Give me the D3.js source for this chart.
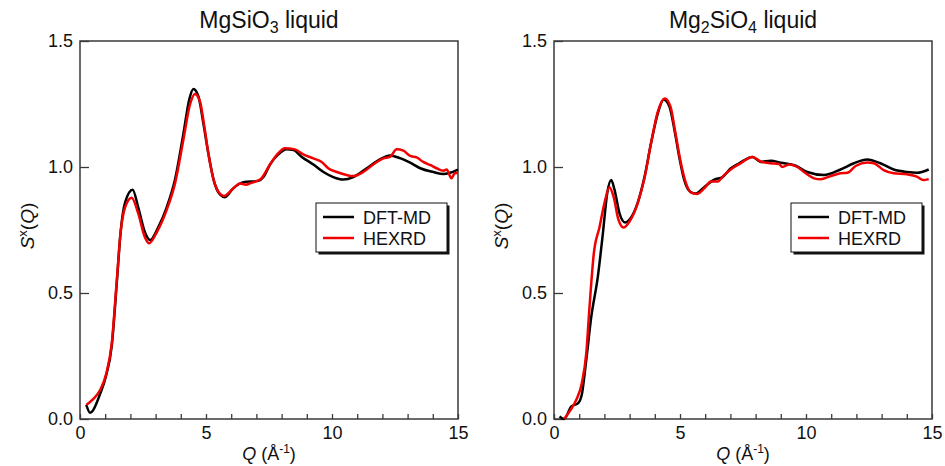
<!DOCTYPE html>
<html>
<head>
<meta charset="utf-8">
<script src="https://cdn.jsdelivr.net/npm/d3@7"></script>
<style>
  body { margin: 0; background: #fff; }
  svg { display: block; font-family: "Liberation Sans", Arial, Helvetica, sans-serif; }
</style>
</head>
<body>
<svg id="chart" width="945" height="466"></svg>
<script>
// MgSiO3 liquid
const mgsio3DftQ = [0.25, 0.4, 0.8, 1.03, 1.26, 1.46, 1.61, 1.79, 2.09, 2.31, 2.58, 2.78, 3.1, 3.44, 3.77, 4.1, 4.34, 4.5, 4.7, 4.9, 5.1, 5.3, 5.56, 5.75, 6.08, 6.48, 7.08, 7.28, 7.54, 7.87, 8.2, 8.47, 8.8, 9.26, 9.66, 10.05, 10.45, 10.85, 11.38, 11.9, 12.3, 12.7, 13.1, 13.5, 14.02, 14.42, 14.68, 15];
const mgsio3DftS = [0.056, 0.025, 0.10, 0.17, 0.29, 0.54, 0.74, 0.86, 0.91, 0.84, 0.74, 0.71, 0.76, 0.84, 0.95, 1.13, 1.27, 1.31, 1.28, 1.17, 1.05, 0.95, 0.89, 0.88, 0.915, 0.94, 0.945, 0.96, 1.01, 1.05, 1.07, 1.067, 1.04, 1.01, 0.98, 0.96, 0.95, 0.96, 0.995, 1.03, 1.046, 1.035, 1.017, 0.995, 0.98, 0.972, 0.977, 0.99];
const mgsio3XrdQ = [0.25, 0.53, 0.8, 1.03, 1.26, 1.46, 1.61, 1.79, 2.05, 2.31, 2.58, 2.74, 3.04, 3.44, 3.77, 4.1, 4.37, 4.56, 4.76, 4.92, 5.1, 5.3, 5.56, 5.71, 6.08, 6.35, 6.59, 6.77, 6.98, 7.2, 7.54, 7.87, 8.13, 8.53, 8.86, 9.26, 9.59, 9.85, 10.19, 10.58, 10.85, 11.24, 11.64, 12.04, 12.3, 12.57, 12.83, 13.1, 13.36, 13.62, 13.89, 14.15, 14.42, 14.55, 14.74, 14.87, 15];
const mgsio3XrdS = [0.056, 0.08, 0.115, 0.175, 0.30, 0.55, 0.74, 0.84, 0.878, 0.816, 0.72, 0.697, 0.74, 0.83, 0.935, 1.107, 1.25, 1.29, 1.26, 1.17, 1.05, 0.95, 0.893, 0.885, 0.915, 0.935, 0.93, 0.936, 0.943, 0.955, 1.01, 1.055, 1.074, 1.07, 1.05, 1.034, 1.02, 0.995, 0.98, 0.968, 0.964, 0.98, 1.01, 1.034, 1.04, 1.07, 1.065, 1.044, 1.038, 1.02, 1.008, 0.995, 0.985, 0.99, 0.955, 0.975, 0.977];

// Mg2SiO4 liquid
const mg2sio4DftQ = [0.22, 0.4, 0.69, 0.95, 1.1, 1.28, 1.48, 1.74, 1.94, 2.11, 2.27, 2.4, 2.6, 2.82, 3.06, 3.32, 3.59, 3.85, 4.12, 4.35, 4.58, 4.78, 4.97, 5.17, 5.41, 5.63, 5.96, 6.36, 6.69, 7.02, 7.35, 7.88, 8.2, 8.6, 9.0, 9.59, 10.05, 10.71, 11.37, 11.9, 12.43, 12.95, 13.48, 14.01, 14.4, 14.87];
const mg2sio4DftS = [0.01, 0.0, 0.05, 0.062, 0.095, 0.234, 0.406, 0.565, 0.737, 0.895, 0.948, 0.91, 0.816, 0.78, 0.80, 0.858, 0.96, 1.094, 1.213, 1.268, 1.24, 1.147, 1.04, 0.948, 0.902, 0.895, 0.92, 0.95, 0.96, 0.995, 1.015, 1.04, 1.02, 1.025, 1.017, 1.005, 0.98, 0.968, 0.99, 1.015, 1.03, 1.015, 0.99, 0.98, 0.977, 0.99];
const mg2sio4XrdQ = [0.4, 0.62, 0.88, 1.1, 1.28, 1.41, 1.58, 1.81, 2.0, 2.2, 2.37, 2.56, 2.76, 2.99, 3.32, 3.59, 3.85, 4.12, 4.4, 4.62, 4.82, 5.01, 5.24, 5.44, 5.67, 5.96, 6.23, 6.49, 6.75, 7.08, 7.41, 7.88, 8.2, 8.6, 8.93, 9.06, 9.33, 9.66, 9.92, 10.32, 10.58, 10.98, 11.37, 11.64, 11.97, 12.43, 12.69, 13.08, 13.48, 14.01, 14.4, 14.66, 14.87];
const mg2sio4XrdS = [0.0, 0.03, 0.075, 0.14, 0.26, 0.446, 0.657, 0.763, 0.856, 0.92, 0.88, 0.79, 0.76, 0.783, 0.856, 0.955, 1.094, 1.22, 1.272, 1.24, 1.134, 1.028, 0.935, 0.898, 0.893, 0.915, 0.942, 0.942, 0.968, 0.995, 1.015, 1.04, 1.022, 1.015, 1.012, 1.0, 1.01, 1.0, 0.98, 0.955, 0.951, 0.964, 0.975, 0.977, 1.004, 1.018, 1.015, 0.988, 0.975, 0.971, 0.962, 0.948, 0.952];

const seriesNames = ["DFT-MD", "HEXRD"];
const seriesColors = ["#000000", "#f00000"];
const yTicks = [0, 0.5, 1.0, 1.5];
const xTicks = [0, 5, 10, 15];

const panels = [
  { left: 80, title: ["MgSiO", "3", " liquid"], legendX: 316,
    series: [[mgsio3DftQ, mgsio3DftS], [mgsio3XrdQ, mgsio3XrdS]] },
  { left: 554, title: ["Mg", "2", "SiO", "4", " liquid"], legendX: 791,
    series: [[mg2sio4DftQ, mg2sio4DftS], [mg2sio4XrdQ, mg2sio4XrdS]] }
];

const plotW = 378, plotH = 378, plotTop = 41;
const svg = d3.select("#chart");
const axisColor = "#3a3a3a";

panels.forEach(p => {
  const g = svg.append("g").attr("transform", "translate(" + p.left + "," + plotTop + ")");
  const x = d3.scaleLinear().domain([0, 15]).range([0, plotW]);
  const y = d3.scaleLinear().domain([0, 1.5]).range([plotH, 0]);

  // frame
  g.append("rect")
    .attr("width", plotW).attr("height", plotH)
    .attr("fill", "none").attr("stroke", axisColor).attr("stroke-width", 1.5);

  // y axis, ticks point inward
  const yAxis = g.append("g")
    .call(d3.axisLeft(y).tickValues(yTicks).tickFormat(d3.format(".1f")).tickSizeInner(-9).tickSizeOuter(0).tickPadding(6));
  yAxis.select(".domain").remove();
  yAxis.selectAll(".tick line").attr("stroke", axisColor).attr("stroke-width", 1.3);
  yAxis.selectAll(".tick text").attr("font-size", 18).attr("fill", "#111").attr("font-family", "Liberation Sans, Arial, sans-serif").attr("x", -7);

  // x axis: minor ticks every 1, labels at 5
  const xAxis = g.append("g").attr("transform", "translate(0," + plotH + ")")
    .call(d3.axisBottom(x).tickValues(d3.range(0, 16, 1)).tickFormat(d => xTicks.includes(d) ? d : "").tickSizeInner(-5).tickSizeOuter(0).tickPadding(7));
  xAxis.select(".domain").remove();
  xAxis.selectAll(".tick line").attr("stroke", axisColor).attr("stroke-width", 1.3);
  xAxis.selectAll(".tick text").attr("font-size", 18).attr("fill", "#111").attr("font-family", "Liberation Sans, Arial, sans-serif");

  // curves
  const line = d3.line()
    .x(d => x(d[0])).y(d => y(d[1]))
    .curve(d3.curveMonotoneX);
  p.series.forEach((s, i) => {
    const pts = s[0].map((q, k) => [q, s[1][k]]);
    g.append("path")
      .datum(pts)
      .attr("d", line)
      .attr("fill", "none")
      .attr("stroke", seriesColors[i])
      .attr("stroke-width", 2.5)
      .attr("stroke-linejoin", "round");
  });

  // title
  const t = svg.append("text")
    .attr("x", p.left + plotW / 2).attr("y", 28)
    .attr("text-anchor", "middle").attr("font-size", 23).attr("fill", "#111");
  p.title.forEach((part, i) => {
    const isSub = /^\d$/.test(part);
    const ts = t.append("tspan").text(part);
    if (isSub) ts.attr("font-size", 16).attr("dy", 5);
    else if (i > 0) ts.attr("dy", -5);
  });

  // x label
  const xl = svg.append("text")
    .attr("x", p.left + plotW / 2).attr("y", 460)
    .attr("text-anchor", "middle").attr("font-size", 18).attr("fill", "#111");
  xl.append("tspan").attr("font-style", "italic").text("Q");
  xl.append("tspan").text(" (Å");
  xl.append("tspan").attr("font-size", 12).attr("dy", -7).text("-1");
  xl.append("tspan").attr("dy", 7).text(")");

  // y label
  const yl = svg.append("text")
    .attr("transform", "translate(" + (p.left - 46) + "," + (plotTop + plotH / 2 - 4) + ") rotate(-90)")
    .attr("text-anchor", "middle").attr("font-size", 19).attr("fill", "#111");
  yl.append("tspan").attr("font-style", "italic").text("S");
  yl.append("tspan").attr("font-size", 13).attr("dy", -7).text("x");
  yl.append("tspan").attr("dy", 7).text("(");
  yl.append("tspan").attr("font-style", "italic").text("Q");
  yl.append("tspan").text(")");

  // legend with drop shadow
  const lg = svg.append("g").attr("transform", "translate(" + p.legendX + ",203)");
  lg.append("rect").attr("x", 2.5).attr("y", 2.5).attr("width", 131).attr("height", 49).attr("fill", "#111");
  lg.append("rect").attr("width", 131).attr("height", 49).attr("fill", "#fff").attr("stroke", "#111").attr("stroke-width", 1);
  seriesNames.forEach((name, i) => {
    const yy = 14 + i * 21;
    lg.append("line").attr("x1", 7).attr("x2", 38).attr("y1", yy).attr("y2", yy)
      .attr("stroke", seriesColors[i]).attr("stroke-width", 2.5);
    lg.append("text").attr("x", 47).attr("y", yy + 6.5).attr("font-size", 18).attr("fill", "#111").text(name);
  });
});
</script>
</body>
</html>
